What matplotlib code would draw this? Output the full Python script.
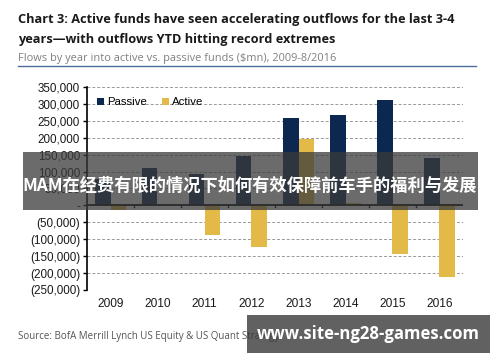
import matplotlib.pyplot as plt
from matplotlib.patches import Rectangle
import numpy as np

years = ['2009', '2010', '2011', '2012', '2013', '2014', '2015', '2016']
passive = [78000, 111000, 93000, 146000, 258000, 266000, 312000, 141000]
active = [-13000, 3000, -87000, -122000, 197000, 8000, -143000, -212000]
yticks = [350000, 300000, 250000, 200000, 150000, 100000, 50000, 0,
          -50000, -100000, -150000, -200000, -250000]


def fmt(v):
    if v == 0:
        return '-'
    if v < 0:
        return '({:,})'.format(-v)
    return '{:,}'.format(v)


W, H = 500, 362
fig = plt.figure(figsize=(W / 100, H / 100), dpi=100)
fig.patch.set_facecolor('white')

ax = fig.add_axes([87 / W, 1 - 290 / H, (463 - 87) / W, (290 - 87) / H])
x = np.arange(len(years))
bw = 0.34
ax.bar(x - bw / 2, passive, bw, color='#0c2850', label='Passive', zorder=3)
ax.bar(x + bw / 2, active, bw, color='#e3b948', label='Active', zorder=3)

ax.set_xlim(-0.5, len(years) - 0.5)
ax.set_ylim(-250000, 350000)
ax.set_yticks(yticks)
ax.set_yticklabels([fmt(v) for v in yticks], fontsize=8.4,
                   fontfamily='Liberation Sans', color='#1a1a1a')
for v in yticks:
    if v != 0:
        ax.axhline(v, color='#999999', lw=0.7, ls=(0, (3, 2)), zorder=1)
ax.axhline(0, color='black', lw=1.3, zorder=4)
for b in np.arange(0.5, len(years) - 0.5, 1):
    ax.plot([b, b], [0, -6000], color='black', lw=1, zorder=4,
            clip_on=False)

ax.set_xticks(x)
ax.set_xticklabels(years, fontsize=8.6, fontfamily='Liberation Sans',
                   color='#1a1a1a')
ax.tick_params(axis='x', length=0, pad=6)
ax.tick_params(axis='y', length=3, width=1, pad=2)
for s in ['top', 'right', 'bottom']:
    ax.spines[s].set_visible(False)
ax.spines['left'].set_linewidth(1.2)

ax.legend(loc='upper left', ncol=2, frameon=False,
          handlelength=0.6, handleheight=0.6, handletextpad=0.3,
          columnspacing=1.3, bbox_to_anchor=(0.0, 1.0),
          prop={'family': 'Liberation Sans', 'size': 8.2})

# titles
fig.text(18 / W, 1 - 20 / H, 'Chart 3: Active funds have seen accelerating outflows for the last 3-4',
         fontsize=9.15, fontweight='bold', fontfamily='Open Sans', color='#1a1a1a',
         va='center', ha='left')
fig.text(18 / W, 1 - 40 / H, 'years\u2014with outflows YTD hitting record extremes',
         fontsize=9.15, fontweight='bold', fontfamily='Open Sans', color='#1a1a1a',
         va='center', ha='left')
fig.text(18 / W, 1 - 58 / H, 'Flows by year into active vs. passive funds ($mn), 2009-8/2016',
         fontsize=7.9, fontfamily='Open Sans', color='#808080', va='center', ha='left')
fig.add_artist(plt.Line2D([18 / W, 476 / W], [1 - 66 / H, 1 - 66 / H],
                          color='#4a6f9a', lw=1))
fig.text(18 / W, 1 - 337 / H, 'Source: BofA Merrill Lynch US Equity & US Quant Strategy',
         fontsize=7.0, fontfamily='Open Sans', color='#555555', va='center', ha='left')

# overlay banners
fig.add_artist(Rectangle((23 / W, 1 - 210 / H), (478 - 23) / W, (210 - 152) / H,
                         transform=fig.transFigure, facecolor='#3a3a3a',
                         alpha=0.75, edgecolor='none', zorder=10))
fig.text(250 / W, 1 - 186 / H, 'MAM在经费有限的情况下如何有效保障前车手的福利与发展',
         fontsize=12.4, fontweight='bold', color='white', ha='center', va='center',
         family=['Noto Sans CJK SC', 'DejaVu Sans'], zorder=11)
fig.add_artist(Rectangle((247 / W, 1 - 353 / H), (490 - 247) / W, (353 - 315) / H,
                         transform=fig.transFigure, facecolor='#3a3a3a',
                         alpha=0.8, edgecolor='none', zorder=10))
fig.text(368 / W, 1 - 334 / H, 'www.site-ng28-games.com',
         fontsize=12.1, fontweight='bold', color='white', ha='center', va='center',
         family=['Open Sans', 'DejaVu Sans'], zorder=11)

fig.savefig('out.png', dpi=100)
